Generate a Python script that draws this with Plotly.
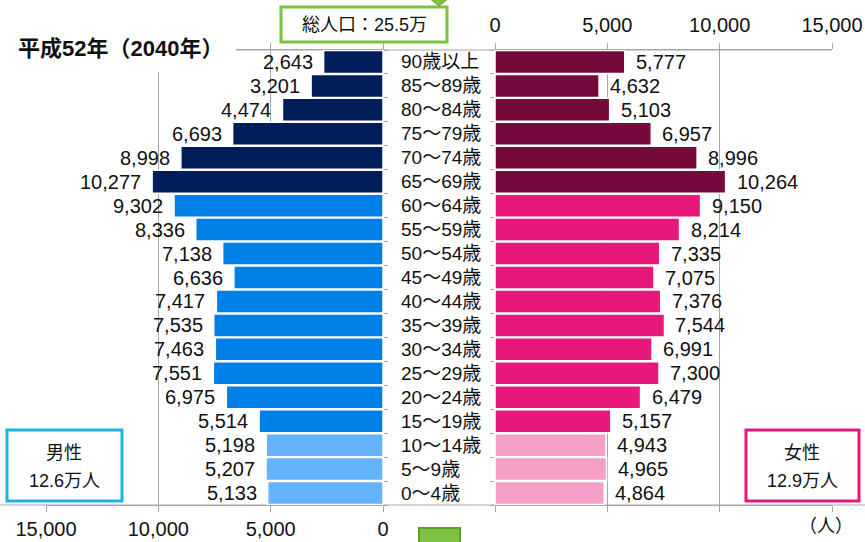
import plotly.graph_objects as go

W, H = 865, 542

ages = ["0～4歳", "5～9歳", "10～14歳", "15～19歳", "20～24歳", "25～29歳", "30～34歳",
        "35～39歳", "40～44歳", "45～49歳", "50～54歳", "55～59歳", "60～64歳",
        "65～69歳", "70～74歳", "75～79歳", "80～84歳", "85～89歳", "90歳以上"]
male = [5133, 5207, 5198, 5514, 6975, 7551, 7463, 7535, 7417, 6636, 7138, 8336, 9302,
        10277, 8998, 6693, 4474, 3201, 2643]
female = [4864, 4965, 4943, 5157, 6479, 7300, 6991, 7544, 7376, 7075, 7335, 8214, 9150,
          10264, 8996, 6957, 5103, 4632, 5777]
tick_vals = [0, 5000, 10000, 15000]
tick_text = ["0", "5,000", "10,000", "15,000"]

title_text = "平成52年（2040年）"
total_text = "総人口：25.5万"
male_box = ["男性", "12.6万人"]
female_box = ["女性", "12.9万人"]
unit_text = "（人）"

FONT = "Liberation Sans, Arial, Noto Sans CJK JP, sans-serif"


def px(x):
    return x / W


def py(y):
    return 1 - y / H


def group_colors(dark, mid, light):
    out = []
    for i in range(len(ages)):
        if i <= 2:
            out.append(light)
        elif i <= 12:
            out.append(mid)
        else:
            out.append(dark)
    return out


male_colors = group_colors("#011E5B", "#0080E6", "#63B3FF")
female_colors = group_colors("#760A3C", "#E8187A", "#F5A0C8")

idx = list(range(len(ages)))

fig = go.Figure()
fig.add_trace(go.Bar(orientation="h", x=male, y=idx, xaxis="x", yaxis="y",
                     marker=dict(color=male_colors, line=dict(color="white", width=1.5)),
                     hoverinfo="x+y", showlegend=False))
fig.add_trace(go.Bar(orientation="h", x=female, y=idx, xaxis="x2", yaxis="y2",
                     marker=dict(color=female_colors, line=dict(color="white", width=1.5)),
                     hoverinfo="x+y", showlegend=False))

GRID = "#A6A6A6"
ydom = [py(505), py(50)]
common_x = dict(tickvals=tick_vals, ticktext=tick_text, showgrid=True, gridcolor=GRID,
                gridwidth=1, zeroline=False, showline=True, linecolor=GRID, linewidth=1,
                ticks="outside", ticklen=6, tickcolor=GRID, mirror="ticks", automargin=False,
                tickfont=dict(family=FONT, size=20, color="#111"), fixedrange=True)
common_y = dict(range=[-0.5, 18.5], showgrid=False, zeroline=False, showticklabels=False,
                ticks="outside", ticklen=4, tickcolor=GRID, automargin=False,
                tickvals=[i + 0.5 for i in range(-1, 19)], fixedrange=True)
fig.update_layout(
    xaxis=dict(domain=[px(46), px(383)], range=[15000, 0], anchor="y", side="bottom",
               ticklabelstandoff=0, **common_x),
    xaxis2=dict(domain=[px(495), px(832)], range=[0, 15000], anchor="y2", side="top",
                ticklabelstandoff=3, **common_x),
    yaxis=dict(domain=ydom, anchor="x", side="right", **common_y),
    yaxis2=dict(domain=ydom, anchor="x2", side="left", **common_y),
    bargap=0.04,
    width=W, height=H,
    margin=dict(l=0, r=0, t=0, b=0, pad=0),
    paper_bgcolor="white", plot_bgcolor="rgba(0,0,0,0)",
    showlegend=False,
)

shapes = []
shapes.append(dict(type="line", xref="paper", yref="paper", x0=px(0), x1=px(832),
                   y0=py(50), y1=py(50), line=dict(color=GRID, width=1), layer="below"))
shapes.append(dict(type="line", xref="paper", yref="paper", x0=0, x1=1,
                   y0=py(505), y1=py(505), line=dict(color=GRID, width=1), layer="below"))
shapes.append(dict(type="rect", xref="paper", yref="paper", x0=0, x1=px(236),
                   y0=py(72), y1=py(28), fillcolor="white", line=dict(width=0), layer="above"))
shapes.append(dict(type="rect", xref="paper", yref="paper", x0=px(281), x1=px(447),
                   y0=py(42), y1=py(7), fillcolor="white",
                   line=dict(color="#7DC242", width=3), layer="above"))
shapes.append(dict(type="path", xref="paper", yref="paper",
                   path=f"M {px(429)} {py(-2)} L {px(449)} {py(-2)} L {px(439)} {py(6)} Z",
                   fillcolor="#7DC242", line=dict(color="#5E9E2E", width=1), layer="above"))
shapes.append(dict(type="rect", xref="paper", yref="paper", x0=px(419), x1=px(460),
                   y0=py(545), y1=py(528), fillcolor="#7DC242",
                   line=dict(color="#5E9E2E", width=2), layer="above"))
shapes.append(dict(type="rect", xref="paper", yref="paper", x0=px(7), x1=px(122),
                   y0=py(501), y1=py(430), fillcolor="white",
                   line=dict(color="#1EB3DD", width=3), layer="above"))
shapes.append(dict(type="rect", xref="paper", yref="paper", x0=px(746), x1=px(859),
                   y0=py(501), y1=py(430), fillcolor="white",
                   line=dict(color="#E6177B", width=3), layer="above"))
fig.update_layout(shapes=shapes)

ann = []
for i, v in enumerate(male):
    ann.append(dict(x=v, y=i, xref="x", yref="y", text=f"{v:,}", showarrow=False,
                    xanchor="right", yanchor="middle", xshift=-9,
                    font=dict(family=FONT, size=20, color="#111")))
for i, v in enumerate(female):
    ann.append(dict(x=v, y=i, xref="x2", yref="y2", text=f"{v:,}", showarrow=False,
                    xanchor="left", yanchor="middle", xshift=9,
                    font=dict(family=FONT, size=20, color="#111")))
for i, a in enumerate(ages):
    ann.append(dict(x=px(399), y=i, xref="paper", yref="y", text=a, showarrow=False,
                    xanchor="left", yanchor="middle",
                    font=dict(family=FONT, size=19, color="#111")))

ann.append(dict(x=px(16), y=py(48), xref="paper", yref="paper", text=f"<b>{title_text}</b>",
                showarrow=False, xanchor="left", yanchor="middle",
                font=dict(family=FONT, size=22, color="#111")))
ann.append(dict(x=px(364), y=py(25), xref="paper", yref="paper", text=total_text,
                showarrow=False, xanchor="center", yanchor="middle",
                font=dict(family=FONT, size=18, color="#111")))
for xx, txts in ((64, male_box), (802, female_box)):
    ann.append(dict(x=px(xx), y=py(453), xref="paper", yref="paper", text=txts[0],
                    showarrow=False, xanchor="center", yanchor="middle",
                    font=dict(family=FONT, size=18, color="#111")))
    ann.append(dict(x=px(xx), y=py(481), xref="paper", yref="paper", text=txts[1],
                    showarrow=False, xanchor="center", yanchor="middle",
                    font=dict(family=FONT, size=18, color="#111")))
ann.append(dict(x=px(826), y=py(526), xref="paper", yref="paper", text=unit_text,
                showarrow=False, xanchor="center", yanchor="middle",
                font=dict(family=FONT, size=18, color="#111")))
fig.update_layout(annotations=ann)

fig.write_html("out.html", config={"displayModeBar": False},
               post_script="document.body.style.margin='0';document.body.style.overflow='hidden';")
